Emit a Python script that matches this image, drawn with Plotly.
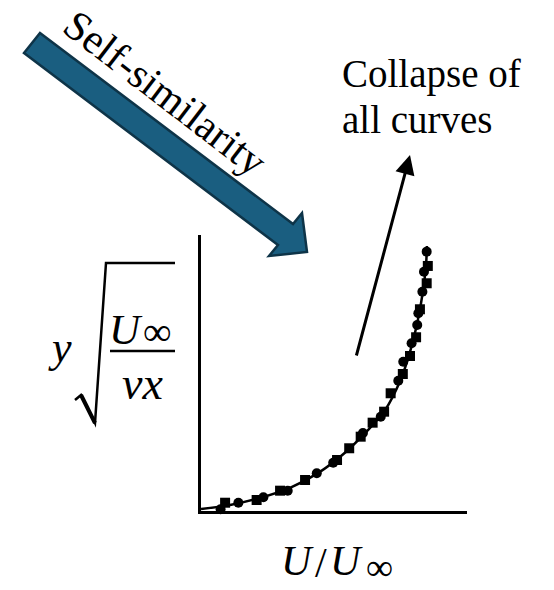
import plotly.graph_objects as go

# Similarity variable (y*sqrt(U_inf/(nu*x))) versus velocity ratio U/U_inf
circle_u = [0.087, 0.166, 0.277, 0.385, 0.514, 0.587, 0.719, 0.798, 0.876,
            0.898, 0.935, 0.960, 0.965, 0.983, 0.990, 1.002]
circle_eta = [0.034, 0.165, 0.273, 0.405, 0.751, 0.963, 1.554, 1.879, 2.597,
              2.975, 3.342, 3.707, 3.940, 4.370, 4.769, 5.168]

square_u = [0.107, 0.247, 0.351, 0.462, 0.604, 0.658, 0.709, 0.762, 0.813,
            0.842, 0.896, 0.928, 0.955, 0.972, 1.002, 1.007]
square_eta = [0.165, 0.219, 0.405, 0.618, 1.016, 1.250, 1.481, 1.760, 1.979,
              2.346, 2.730, 3.089, 3.462, 4.020, 4.538, 4.883]

curve_u = [0.0, 0.129, 0.262, 0.395, 0.528, 0.639, 0.728, 0.817, 0.884,
           0.928, 0.963, 0.986, 0.999, 1.003]
curve_eta = [0.04, 0.12, 0.26, 0.46, 0.78, 1.16, 1.55, 2.01, 2.59,
             3.17, 3.81, 4.40, 4.90, 5.28]

W, H = 554, 590
SERIF = "Liberation Serif"
BLUE = "#1a5e80"
BLUE_EDGE = "#0e3448"


def px(x):
    return x / W


def py(y):
    return 1 - y / H


def path(points):
    return "M " + " L ".join(f"{px(x):.5f},{py(y):.5f}" for x, y in points)


fig = go.Figure()

fig.add_trace(go.Scatter(x=curve_u, y=curve_eta, mode="lines",
                         line=dict(color="black", width=2.5, shape="spline"),
                         cliponaxis=False, showlegend=False, hoverinfo="skip"))
fig.add_trace(go.Scatter(x=circle_u, y=circle_eta, mode="markers",
                         marker=dict(symbol="circle", size=10, color="black"),
                         cliponaxis=False, showlegend=False))
fig.add_trace(go.Scatter(x=square_u, y=square_eta, mode="markers",
                         marker=dict(symbol="square", size=10, color="black"),
                         cliponaxis=False, showlegend=False))

axis_common = dict(showline=True, linecolor="black", linewidth=2.5,
                   showgrid=False, zeroline=False, showticklabels=False,
                   ticks="")

shapes = [
    # broad "Self-similarity" arrow
    dict(type="path", xref="paper", yref="paper",
         path=path([(40, 33), (293, 224), (302, 213), (307, 252),
                    (269, 256), (278, 245), (24, 53)]) + " Z",
         fillcolor=BLUE, line=dict(color=BLUE_EDGE, width=2.5)),
    # radical sign
    dict(type="path", xref="paper", yref="paper",
         path=path([(75, 400), (81, 395), (95, 423), (106, 263), (175, 263)]),
         line=dict(color="black", width=2.5)),
    dict(type="path", xref="paper", yref="paper",
         path=path([(81, 395), (95, 423)]),
         line=dict(color="black", width=4)),
    # fraction bar
    dict(type="line", xref="paper", yref="paper",
         x0=px(110), x1=px(175), y0=py(351), y1=py(351),
         line=dict(color="black", width=2.5)),
]


def label(text, x, y, size, xanchor="center", yanchor="middle", angle=0):
    return dict(text=text, x=px(x), y=py(y), xref="paper", yref="paper",
                showarrow=False, xanchor=xanchor, yanchor=yanchor,
                textangle=angle, borderpad=0,
                font=dict(family=SERIF, size=size, color="black"))


annotations = [
    label("Self-similarity", 165, 93, 42, angle=37.5),
    label("Collapse of", 341, 74, 39, xanchor="left"),
    label("all curves", 341, 119, 39, xanchor="left"),
    # y-axis label pieces
    label("<i>y</i>", 60, 347, 44),
    label("<i>U</i>", 126, 329, 43),
    label("∞", 157, 331, 40),
    label("<i>νx</i>", 142, 383, 46),
    # x-axis label pieces
    label("<i>U</i>", 297, 561, 42),
    label("/", 321, 563, 42),
    label("<i>U</i>", 346, 561, 42),
    label("∞", 379, 567, 38),
    # "collapse" arrow
    dict(x=px(410), y=py(155), xref="paper", yref="paper", text="",
         showarrow=True, axref="pixel", ayref="pixel",
         ax=356 - 410, ay=357 - 155, arrowhead=2, arrowsize=1.3,
         arrowwidth=3, arrowcolor="black"),
]

fig.update_layout(
    width=W, height=H, autosize=False,
    margin=dict(l=0, r=0, t=0, b=0),
    paper_bgcolor="white", plot_bgcolor="rgba(0,0,0,0)",
    xaxis=dict(domain=[201 / W, 467 / W], range=[0, 1.181], **axis_common),
    yaxis=dict(domain=[(H - 511) / H, (H - 235) / H], range=[0, 5.5], **axis_common),
    shapes=shapes, annotations=annotations, showlegend=False,
)

fig.write_html("out.html")
